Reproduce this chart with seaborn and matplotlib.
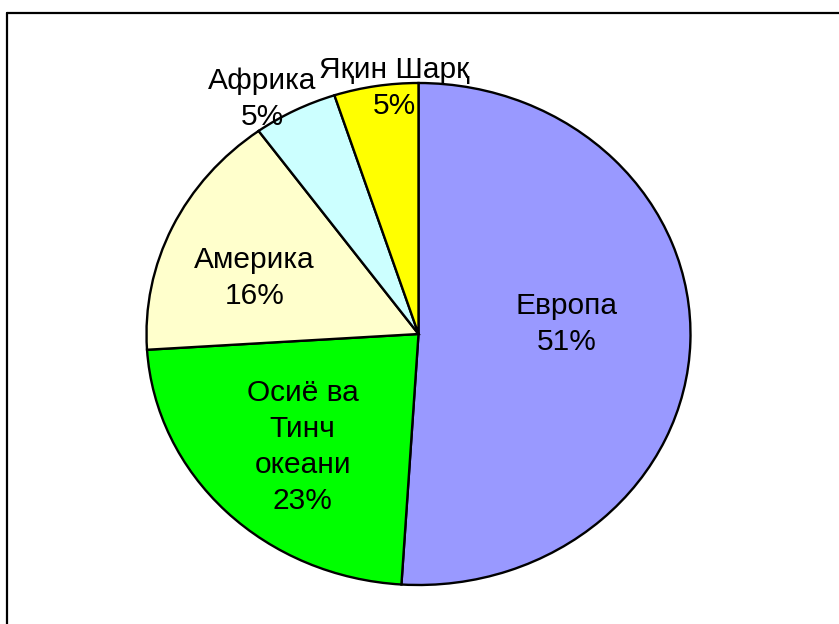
import matplotlib
matplotlib.use("Agg")
import matplotlib.pyplot as plt
from matplotlib.lines import Line2D
import seaborn as sns

categories = ["Европа", "Осиё ва\nТинч\nокеани", "Америка", "Африка", "Яқин Шарқ"]
values = [51, 23, 16, 5, 5]
colors = ["#9999FF", "#00FF00", "#FFFFCC", "#CCFFFF", "#FFFF00"]

# label anchor positions in data coords (pie radius = 1)
label_pos = [(0.545, 0.04), (-0.426, -0.45), (-0.603, 0.223), (-0.574, 0.935), (-0.088, 0.98)]

sns.set_theme(style="white")
plt.rcParams['font.family'] = ['Liberation Sans', 'DejaVu Sans']

W, H = 839, 624
fig = plt.figure(figsize=(W / 100, H / 100), dpi=100)
fig.patch.set_facecolor("white")

cx, cy, rx, ry = 418.5, 334, 272, 251
ax = fig.add_axes([(cx - rx) / W, (H - cy - ry) / H, 2 * rx / W, 2 * ry / H])
wedges, _ = ax.pie(values, colors=colors, startangle=90, counterclock=False,
                   radius=1, wedgeprops=dict(edgecolor="black", linewidth=1.7))
ax.set_xlim(-1, 1)
ax.set_ylim(-1, 1)
ax.set_aspect("auto")
ax.axis("off")

for cat, v, (x, y) in zip(categories, values, label_pos):
    ax.text(x, y, f"{cat}\n{v}%", ha="center", va="center", fontsize=21.5,
            linespacing=1.36, color="black", clip_on=False)

# outer frame (cut off at right and bottom)
fig.add_artist(Line2D([6.5 / W, 6.5 / W], [0, 1 - 12.5 / H], transform=fig.transFigure,
                      color="black", linewidth=1.6))
fig.add_artist(Line2D([6.5 / W, 1], [1 - 12.5 / H, 1 - 12.5 / H], transform=fig.transFigure,
                      color="black", linewidth=1.6))

fig.savefig("out.png", dpi=100, facecolor="white")
